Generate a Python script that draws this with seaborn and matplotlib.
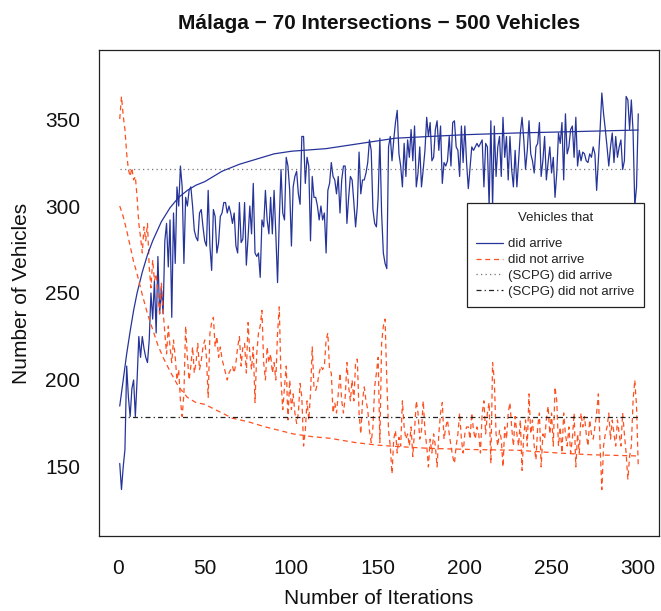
import matplotlib
matplotlib.use("Agg")
import matplotlib.pyplot as plt
from matplotlib.lines import Line2D
import seaborn as sns

iterations = list(range(1, 301))

arrived = [
    152, 137, 150, 160, 208, 190, 179, 195, 200, 179,
    200, 225, 213, 225, 218, 213, 210, 223, 250, 235,
    257, 227, 271, 238, 253, 238, 280, 290, 265, 292,
    236, 296, 267, 311, 300, 323, 311, 267, 305, 300,
    309, 311, 300, 286, 282, 280, 296, 298, 288, 280,
    277, 309, 277, 263, 298, 294, 273, 279, 294, 296,
    302, 302, 296, 300, 296, 290, 296, 277, 273, 302,
    279, 281, 302, 266, 282, 300, 284, 313, 273, 271,
    273, 259, 292, 288, 309, 292, 284, 305, 284, 309,
    284, 256, 292, 321, 296, 292, 328, 323, 309, 277,
    311, 317, 320, 307, 301, 340, 340, 313, 328, 323,
    280, 317, 305, 305, 300, 292, 300, 292, 296, 273,
    309, 313, 325, 317, 315, 307, 317, 296, 315, 323,
    323, 290, 305, 317, 315, 302, 288, 300, 331, 307,
    315, 315, 319, 325, 338, 332, 298, 290, 288, 305,
    339, 296, 273, 267, 264, 334, 340, 326, 338, 348,
    355, 330, 323, 311, 336, 317, 338, 328, 344, 326,
    346, 311, 319, 334, 311, 321, 332, 351, 340, 348,
    326, 328, 344, 349, 332, 346, 313, 325, 323, 326,
    340, 323, 348, 349, 334, 332, 317, 346, 325, 346,
    325, 310, 322, 334, 332, 334, 336, 334, 336, 338,
    311, 336, 334, 300, 349, 300, 346, 317, 334, 340,
    317, 351, 328, 340, 315, 340, 321, 311, 332, 311,
    326, 342, 351, 338, 321, 332, 349, 330, 326, 319,
    334, 336, 348, 317, 326, 340, 315, 325, 334, 319,
    328, 305, 319, 342, 336, 348, 315, 353, 330, 334,
    344, 346, 328, 351, 323, 332, 326, 331, 330, 326,
    325, 330, 328, 334, 330, 309, 326, 344, 365, 353,
    344, 334, 323, 334, 342, 325, 340, 328, 334, 338,
    321, 326, 363, 361, 344, 361, 343, 300, 311, 353,
]

not_arrived = [
    350, 363, 352, 344, 330, 321, 317, 322, 315, 317,
    305, 290, 282, 273, 288, 280, 290, 265, 253, 269,
    257, 261, 250, 238, 256, 240, 227, 215, 231, 219,
    210, 223, 213, 200, 206, 188, 179, 192, 231, 213,
    200, 208, 219, 204, 210, 221, 206, 211, 219, 223,
    213, 190, 227, 233, 236, 219, 225, 213, 219, 212,
    208, 204, 200, 204, 206, 208, 204, 210, 219, 225,
    208, 219, 221, 204, 233, 215, 206, 219, 187, 215,
    227, 231, 240, 210, 200, 219, 210, 215, 204, 210,
    200, 227, 242, 200, 183, 196, 208, 177, 200, 183,
    192, 181, 175, 181, 198, 190, 162, 171, 188, 177,
    192, 219, 196, 194, 198, 204, 208, 206, 208, 223,
    227, 206, 204, 181, 187, 181, 192, 204, 188, 181,
    190, 210, 196, 188, 200, 188, 210, 212, 181, 169,
    188, 196, 188, 183, 171, 164, 173, 196, 204, 213,
    164, 221, 231, 235, 200, 171, 162, 146, 166, 171,
    158, 167, 162, 188, 173, 166, 169, 162, 173, 156,
    171, 188, 181, 166, 171, 188, 171, 162, 150, 166,
    158, 169, 162, 150, 169, 181, 187, 166, 173, 177,
    169, 162, 156, 152, 162, 169, 181, 166, 158, 169,
    173, 173, 166, 181, 171, 166, 173, 169, 158, 181,
    188, 169, 181, 187, 152, 210, 200, 169, 162, 171,
    166, 150, 173, 166, 181, 187, 173, 162, 179, 169,
    162, 177, 148, 169, 177, 162, 192, 169, 177, 162,
    154, 173, 181, 150, 169, 166, 177, 185, 169, 181,
    162, 196, 188, 162, 173, 158, 181, 169, 162, 173,
    158, 166, 181, 150, 169, 158, 181, 173, 179, 169,
    162, 177, 169, 166, 173, 181, 192, 162, 137, 162,
    169, 173, 181, 166, 177, 169, 162, 177, 169, 162,
    181, 169, 158, 143, 156, 162, 188, 200, 185, 150,
]

fit_arr_iter = [1, 3, 5, 7, 9, 11, 14, 17, 20, 25, 30, 35, 40, 45, 50, 60, 70,
                80, 90, 100, 120, 140, 160, 180, 200, 230, 260, 300]
fit_arrived = [185, 200, 215, 228, 240, 250, 262, 272, 280, 291, 299, 305, 309,
               312, 314, 320, 324, 327, 330, 331.5, 333, 336, 339, 340, 341,
               342, 342.7, 343.7]

fit_not_iter = [1, 3, 5, 7, 9, 11, 14, 17, 20, 23, 26, 30, 35, 40, 45, 50, 56,
                66, 75, 85, 93, 101, 112, 122, 137, 150, 162, 179, 205, 230,
                254, 273, 300]
fit_not_arrived = [300, 294, 286, 277, 268, 261, 249, 238, 229, 220, 213, 205,
                   196, 190, 187, 186, 183, 178, 176, 173, 171, 169, 167.4,
                   166.5, 164, 162.5, 161.7, 160.7, 160, 159.6, 158, 157, 156.3]

scpg_arrived = 321
scpg_not_arrived = 179

x_ticks = [0, 50, 100, 150, 200, 250, 300]
y_ticks = [150, 200, 250, 300, 350]

sns.set_style("white")
plt.rcParams['font.family'] = ['Liberation Sans', 'DejaVu Sans']

W, H = 661, 611
fig = plt.figure(figsize=(W / 100, H / 100), dpi=100)
ax = fig.add_axes([99 / W, 1 - 536 / H, 560 / W, 486 / H])

blue = "#26349a"
red = "#ff5020"
dash = (0, (4, 3))
dot = (0, (1, 2.6))
dashdot = (0, (4, 2.5, 1, 2.5))

sns.lineplot(x=iterations, y=arrived, ax=ax, color=blue, lw=0.9)
sns.lineplot(x=iterations, y=not_arrived, ax=ax, color=red, lw=0.9, linestyle=dash)
sns.lineplot(x=fit_arr_iter, y=fit_arrived, ax=ax, color=blue, lw=0.9)
sns.lineplot(x=fit_not_iter, y=fit_not_arrived, ax=ax, color=red, lw=0.9, linestyle=dash)
sns.lineplot(x=[iterations[0], iterations[-1]], y=[scpg_arrived] * 2, ax=ax,
             color="#777777", lw=0.9, linestyle=dot)
sns.lineplot(x=[iterations[0], iterations[-1]], y=[scpg_not_arrived] * 2, ax=ax,
             color="#222222", lw=0.9, linestyle=dashdot)

ax.set_xlim(1 - 11.96, 300 + 11.96)
ax.set_ylim(110.3, 389.7)
ax.set_xticks(x_ticks)
ax.set_yticks(y_ticks)
ax.set_xticklabels([str(t) for t in x_ticks])
ax.set_yticklabels([str(t) for t in y_ticks])
ax.tick_params(direction='out', length=8.6, width=0.8, colors='#222222',
               labelsize=15, labelcolor='#111111')
ax.tick_params(axis='x', pad=8)
ax.tick_params(axis='y', pad=5)
for s in ax.spines.values():
    s.set_color('#222222')
    s.set_linewidth(0.9)
    s.set_visible(True)

ax.set_xlabel("Number of Iterations", fontsize=15, color='#111111', labelpad=8)
ax.set_ylabel("Number of Vehicles", fontsize=15, color='#111111', labelpad=10)
ax.set_title("Málaga − 70 Intersections − 500 Vehicles", fontsize=15,
             fontweight='bold', color='#111111', pad=15)

handles = [
    Line2D([], [], color=blue, lw=0.9),
    Line2D([], [], color=red, lw=0.9, linestyle=dash),
    Line2D([], [], color="#777777", lw=0.9, linestyle=dot),
    Line2D([], [], color="#222222", lw=0.9, linestyle=dashdot),
]
labels = ["did arrive", "did not arrive", "(SCPG) did arrive", "(SCPG) did not arrive"]
leg = ax.legend(handles, labels, title="Vehicles that", loc='upper right',
                bbox_to_anchor=((644 - 99) / 560, (536 - 203) / 486),
                fontsize=9.5, title_fontsize=9.5, frameon=True, fancybox=False,
                framealpha=1, edgecolor='#222222', handlelength=2.05,
                handletextpad=0.4, labelspacing=0.27, borderpad=0.7,
                borderaxespad=0)
leg._legend_box.sep = 10
leg.get_frame().set_linewidth(0.9)
for t in leg.get_texts():
    t.set_color('#222222')
leg.get_title().set_color('#222222')

fig.savefig("out.png", dpi=100)
